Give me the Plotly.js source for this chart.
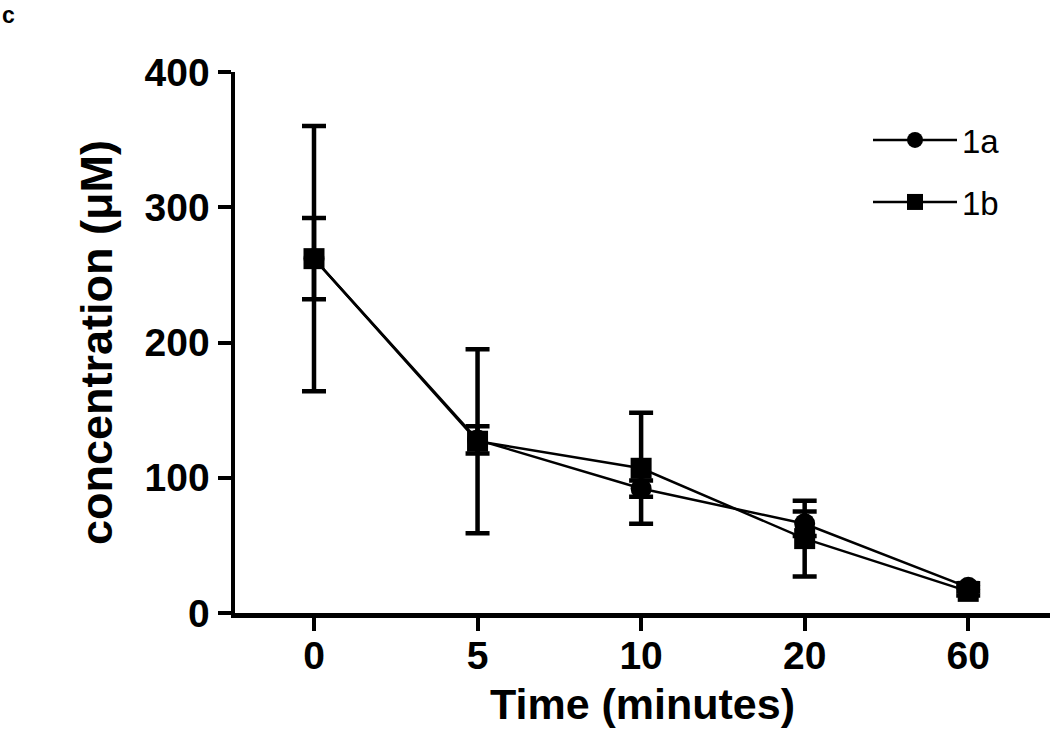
<!DOCTYPE html>
<html>
<head>
<meta charset="utf-8">
<script src="https://cdn.plot.ly/plotly-3.0.1.min.js"></script>
<style>html,body{margin:0;padding:0;background:#fff;}#chart{width:1050px;height:743px;}</style>
</head>
<body>
<div id="chart"></div>
<script>
const timeLabels = ['0', '5', '10', '20', '60'];
const meanA = [262, 128, 92, 66, 19];
const errA  = [30, 10, 6, 9, 3];
const meanB = [262, 127, 107, 55, 16];
const errB  = [98, 68, 41, 28, 3];
const seriesNames = ['1a', '1b'];

const FONT = 'Liberation Sans, Arial, sans-serif';

const traces = [
  {
    x: timeLabels, y: meanA, name: seriesNames[0], type: 'scatter', mode: 'lines+markers',
    line: {color: '#000', width: 2.5},
    marker: {symbol: 'circle', size: 21, color: '#000'},
    error_y: {type: 'data', array: errA, visible: true, color: '#000', thickness: 4.5, width: 12},
    legend: 'legend'
  },
  {
    x: timeLabels, y: meanB, name: seriesNames[1], type: 'scatter', mode: 'lines+markers',
    line: {color: '#000', width: 2.5},
    marker: {symbol: 'square', size: 21, color: '#000'},
    error_y: {type: 'data', array: errB, visible: true, color: '#000', thickness: 4.5, width: 12},
    legend: 'legend2'
  }
];

const legendCommon = {
  xanchor: 'left', yanchor: 'middle',
  bgcolor: 'rgba(0,0,0,0)', borderwidth: 0,
  font: {family: FONT, size: 33, color: '#000'},
  itemwidth: 84
};

const layout = {
  width: 1050, height: 743,
  margin: {l: 235, r: 0, t: 72, b: 130, pad: 0, autoexpand: false},
  paper_bgcolor: '#fff', plot_bgcolor: '#fff',
  showlegend: true,
  legend: Object.assign({}, legendCommon, {x: (868 - 235) / 815, y: (613 - 140) / 541}),
  legend2: Object.assign({}, legendCommon, {x: (868 - 235) / 815, y: (613 - 202) / 541}),
  xaxis: {
    type: 'category',
    range: [-0.483, 4.5],
    showgrid: false, zeroline: false,
    showline: true, linecolor: '#000', linewidth: 4.5,
    ticks: 'outside', ticklen: 13, tickwidth: 4, tickcolor: '#000',
    ticklabelstandoff: -8,
    tickfont: {family: FONT, size: 39, color: '#000', weight: 'bold'},
    title: {text: 'Time (minutes)', font: {family: FONT, size: 43, color: '#000', weight: 'bold'}, standoff: 14}
  },
  yaxis: {
    range: [0, 400],
    tickvals: [0, 100, 200, 300, 400],
    showgrid: false, zeroline: false,
    showline: true, linecolor: '#000', linewidth: 4.5,
    ticks: 'outside', ticklen: 13, tickwidth: 4, tickcolor: '#000',
    tickfont: {family: FONT, size: 39, color: '#000', weight: 'bold'},
    title: {text: 'concentration (μM)', font: {family: FONT, size: 45, color: '#000', weight: 'bold'}, standoff: 19}
  },
  annotations: [
    {text: 'c', xref: 'paper', yref: 'paper', x: -235 / 815, y: 1 + 72 / 541, xanchor: 'left', yanchor: 'top',
     showarrow: false, font: {family: FONT, size: 23, color: '#000', weight: 'bold'}}
  ]
};

Plotly.newPlot('chart', traces, layout, {displayModeBar: false, staticPlot: true});
</script>
</body>
</html>
